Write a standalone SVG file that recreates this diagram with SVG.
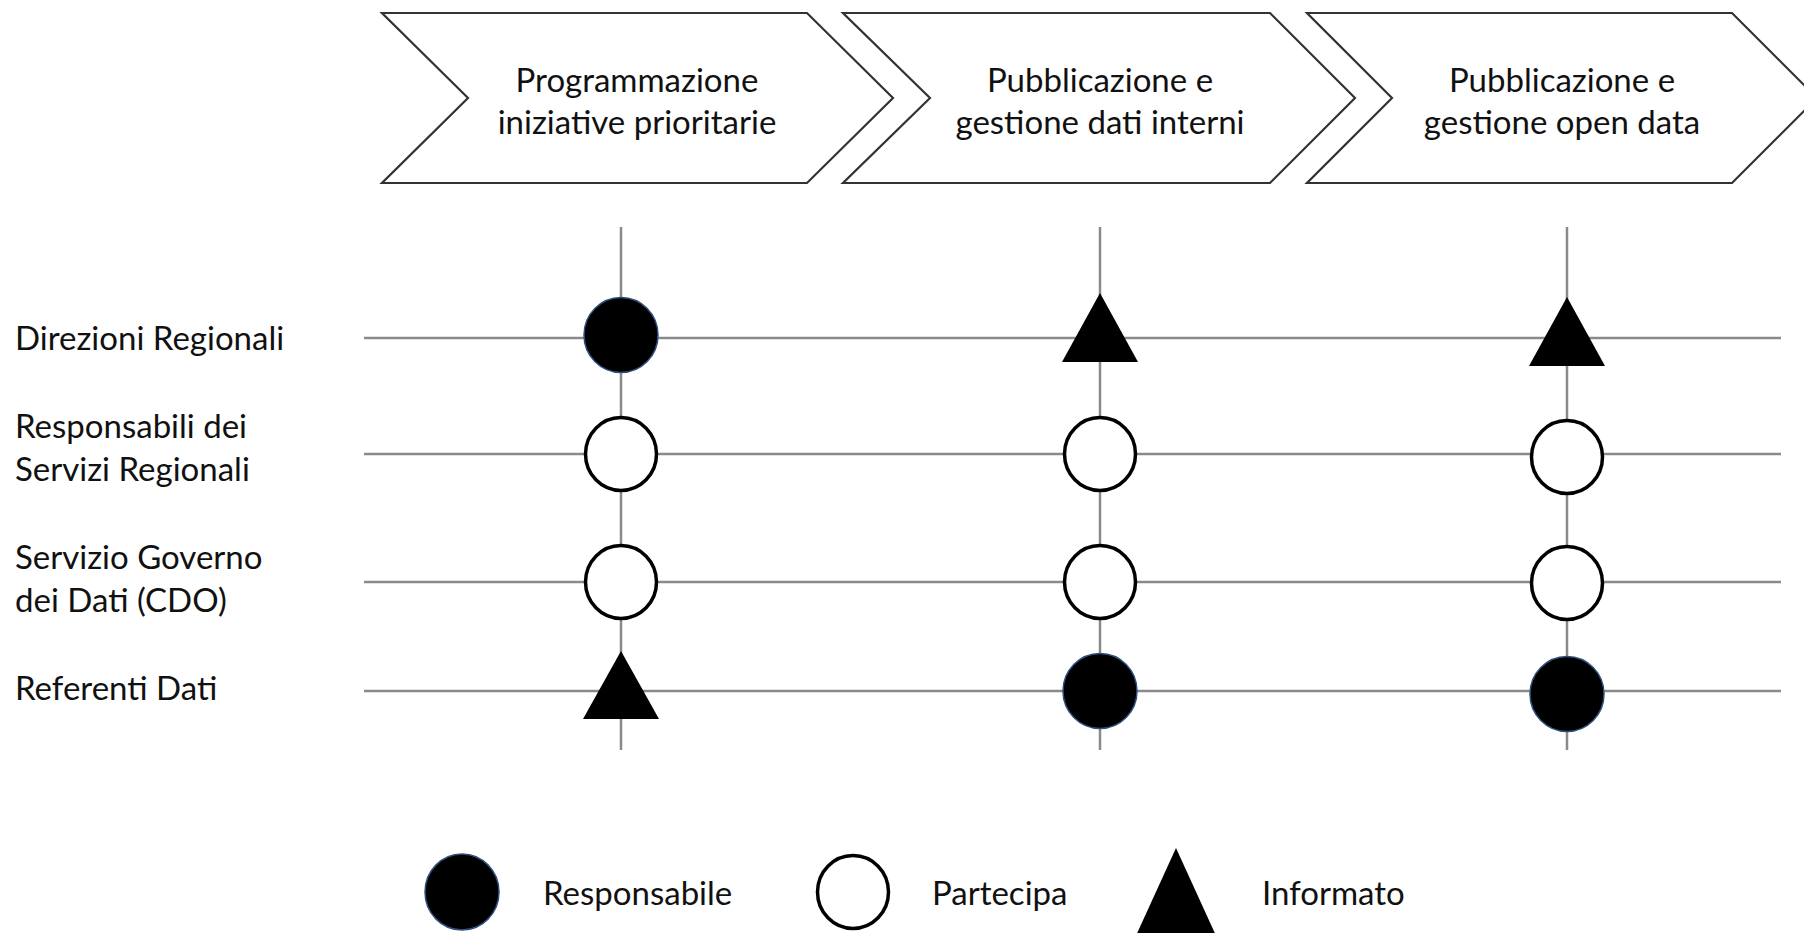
<svg xmlns="http://www.w3.org/2000/svg" width="1804" height="933" viewBox="0 0 1804 933">
<style>
.chev{fill:#fff;stroke:#333;stroke-width:2.2;stroke-linejoin:miter}
.t{font-family:Lato,"Open Sans","Liberation Sans",sans-serif;font-size:33px;fill:#111}
.tc{text-anchor:middle}
.grid{stroke:#8a8a8a;stroke-width:2.5;fill:none}
.resp{fill:#000;stroke:#2f4f7f;stroke-width:1.5}
.part{fill:#fff;stroke:#000;stroke-width:3.5}
.info{fill:#000}
</style>
<rect width="1804" height="933" fill="#fff"/>
<g id="phase1">
<polygon class="chev" points="382,13 807,13 893,98 807,183 382,183 468,98"/>
<text class="t tc" x="637" y="92">Programmazione</text>
<text class="t tc" x="637" y="134">iniziative prioritarie</text>
</g>
<g id="phase2">
<polygon class="chev" points="843,13 1270,13 1355,98 1270,183 843,183 930,98"/>
<text class="t tc" x="1100" y="92">Pubblicazione e</text>
<text class="t tc" x="1100" y="134">gestione dati interni</text>
</g>
<g id="phase3">
<polygon class="chev" points="1307,13 1732,13 1817,98 1732,183 1307,183 1392,98"/>
<text class="t tc" x="1562" y="92">Pubblicazione e</text>
<text class="t tc" x="1562" y="134">gestione open data</text>
</g>
<g id="roles">
<g id="role1"><text class="t" x="15" y="350">Direzioni Regionali</text></g>
<g id="role2"><text class="t" x="15" y="438">Responsabili dei</text><text class="t" x="15" y="481">Servizi Regionali</text></g>
<g id="role3"><text class="t" x="15" y="569">Servizio Governo</text><text class="t" x="15" y="612">dei Dati (CDO)</text></g>
<g id="role4"><text class="t" x="15" y="700">Referenti Dati</text></g>
</g>
<g id="connectors">
<line class="grid" x1="364" y1="338" x2="1781" y2="338"/>
<line class="grid" x1="364" y1="454" x2="1781" y2="454"/>
<line class="grid" x1="364" y1="582" x2="1781" y2="582"/>
<line class="grid" x1="364" y1="691" x2="1781" y2="691"/>
<line class="grid" x1="621" y1="227" x2="621" y2="750"/>
<line class="grid" x1="1100" y1="227" x2="1100" y2="750"/>
<line class="grid" x1="1567" y1="227" x2="1567" y2="750"/>
</g>
<g id="markers">
<g id="c1r1"><ellipse class="resp" cx="621" cy="335" rx="37" ry="37.5"/></g>
<g id="c1r2"><ellipse class="part" cx="621" cy="454" rx="35.5" ry="36.5"/></g>
<g id="c1r3"><ellipse class="part" cx="621" cy="582" rx="35.5" ry="36.5"/></g>
<g id="c1r4"><polygon class="info" points="621,651 659,719 583,719"/></g>
<g id="c2r1"><polygon class="info" points="1100,293 1138,362 1062,362"/></g>
<g id="c2r2"><ellipse class="part" cx="1100" cy="454" rx="35.5" ry="36.5"/></g>
<g id="c2r3"><ellipse class="part" cx="1100" cy="582" rx="35.5" ry="36.5"/></g>
<g id="c2r4"><ellipse class="resp" cx="1100" cy="691" rx="37" ry="37.5"/></g>
<g id="c3r1"><polygon class="info" points="1567,297 1605,366 1529,366"/></g>
<g id="c3r2"><ellipse class="part" cx="1567" cy="457" rx="35.5" ry="36.5"/></g>
<g id="c3r3"><ellipse class="part" cx="1567" cy="583" rx="35.5" ry="36.5"/></g>
<g id="c3r4"><ellipse class="resp" cx="1567" cy="694" rx="37" ry="37.5"/></g>
</g>
<g id="legend">
<g id="leg-resp"><ellipse class="resp" cx="462" cy="892" rx="37" ry="38"/><text class="t" x="543" y="905">Responsabile</text></g>
<g id="leg-part"><ellipse class="part" cx="853" cy="892" rx="35.5" ry="36.5"/><text class="t" x="932" y="905">Partecipa</text></g>
<g id="leg-info"><polygon class="info" points="1176,848 1218,940 1134,940"/><text class="t" x="1262" y="905">Informato</text></g>
</g>
</svg>
